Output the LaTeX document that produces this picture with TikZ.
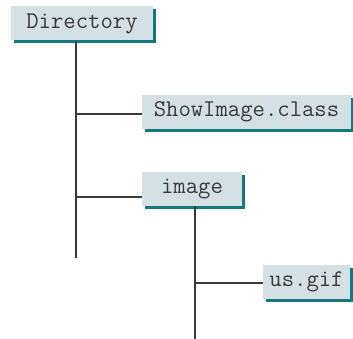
\documentclass[tikz,border=0pt]{standalone}
\usepackage{fontspec}
\usetikzlibrary{shadows}
\definecolor{boxfill}{HTML}{D5E0E4}
\definecolor{boxshade}{HTML}{13797D}
\definecolor{inkgray}{HTML}{3A3A3A}
\tikzset{
  dirbox/.style={draw=none,fill=boxfill,minimum height=34pt,inner sep=0pt,
    text=inkgray,font=\ttfamily\fontsize{24}{28}\selectfont,
    drop shadow={shadow xshift=3pt,shadow yshift=-3pt,fill=boxshade,opacity=1}},
  branch/.style={draw=inkgray,line width=1.1pt}
}
\begin{document}
\begin{tikzpicture}[x=1pt,y=-1pt]
  \useasboundingbox (0,0) rectangle (353,339);
  \node[dirbox,minimum width=142pt] (dir) at (82,23.5) {Directory};
  \node[dirbox,minimum width=209pt] (cls) at (246.5,112) {ShowImage.class};
  \node[dirbox,minimum width=100pt] (img) at (192,189) {image};
  \node[dirbox,minimum width=87pt] (gif) at (306.5,281.5) {us.gif};
  \coordinate (dirend) at (76,258);
  \coordinate (clsjoin) at (76,114);
  \coordinate (imgjoin) at (76,197);
  \coordinate (imgend) at (195,339);
  \coordinate (gifjoin) at (195,283);
  \draw[branch] (dir.south -| dirend) -- (dirend);
  \draw[branch] (clsjoin) -- (clsjoin -| cls.west);
  \draw[branch] (imgjoin) -- (imgjoin -| img.west);
  \draw[branch] (img.south -| imgend) -- (imgend);
  \draw[branch] (gifjoin) -- (gifjoin -| gif.west);
\end{tikzpicture}
\end{document}
